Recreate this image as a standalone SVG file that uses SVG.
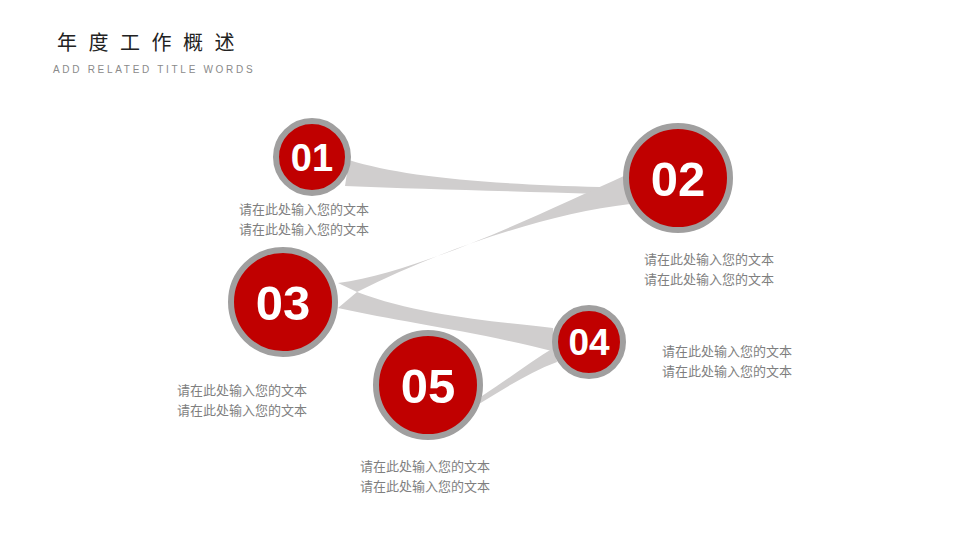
<svg xmlns="http://www.w3.org/2000/svg" width="960" height="540" viewBox="0 0 960 540">
<style>
.ring{fill:#c00000;stroke:#a09f9f;stroke-width:6}
.num{fill:#fff;font-family:"Liberation Sans",Arial,sans-serif;font-weight:bold;text-anchor:middle}
.desc{fill:#7f7f7f;font-family:"Noto Sans CJK SC","Liberation Sans",sans-serif;font-size:13px}
.band{fill:#d0cece}
</style>
<rect width="960" height="540" fill="#fff"/>
<g id="title">
<text x="57" y="50" font-family="Noto Sans CJK SC,sans-serif" font-size="20" letter-spacing="11.5" fill="#222">年度工作概述</text>
<text x="53" y="73" font-family="Liberation Sans,Arial,sans-serif" font-size="10" letter-spacing="2.7" fill="#8a8a8a">ADD RELATED TITLE WORDS</text>
</g>
<g id="connectors">
<path class="band" d="M349,160 C400,176 480,184 600,187 L600,194 C500,191 420,189 345,186 Z"/>
<path class="band" d="M338,283 C420,272 540,214 626,175 L630,204 C545,214 440,250 357,292 Z"/>
<path class="band" d="M357,292 C420,316 500,322 553,328 L556,352 C470,330 400,322 338,308 Z"/>
<path class="band" d="M482,396 C510,378 530,362 555,347 L557,362 C530,372 505,388 479,404 Z"/>
</g>
<g id="node01">
<circle class="ring" cx="312" cy="157" r="36"/>
<text class="num" x="312" y="171" font-size="38">01</text>
<text class="desc" x="239" y="214">请在此处输入您的文本</text>
<text class="desc" x="239" y="234">请在此处输入您的文本</text>
</g>
<g id="node02">
<circle class="ring" cx="678" cy="178" r="52"/>
<text class="num" x="678" y="196" font-size="49">02</text>
<text class="desc" x="644" y="264">请在此处输入您的文本</text>
<text class="desc" x="644" y="284">请在此处输入您的文本</text>
</g>
<g id="node03">
<circle class="ring" cx="283" cy="302" r="52"/>
<text class="num" x="283" y="320" font-size="49">03</text>
<text class="desc" x="177" y="395">请在此处输入您的文本</text>
<text class="desc" x="177" y="415">请在此处输入您的文本</text>
</g>
<g id="node04">
<circle class="ring" cx="589" cy="342" r="34"/>
<text class="num" x="589" y="355" font-size="37">04</text>
<text class="desc" x="662" y="356">请在此处输入您的文本</text>
<text class="desc" x="662" y="376">请在此处输入您的文本</text>
</g>
<g id="node05">
<circle class="ring" cx="428" cy="385" r="52"/>
<text class="num" x="428" y="403" font-size="49">05</text>
<text class="desc" x="360" y="471">请在此处输入您的文本</text>
<text class="desc" x="360" y="491">请在此处输入您的文本</text>
</g>
</svg>
